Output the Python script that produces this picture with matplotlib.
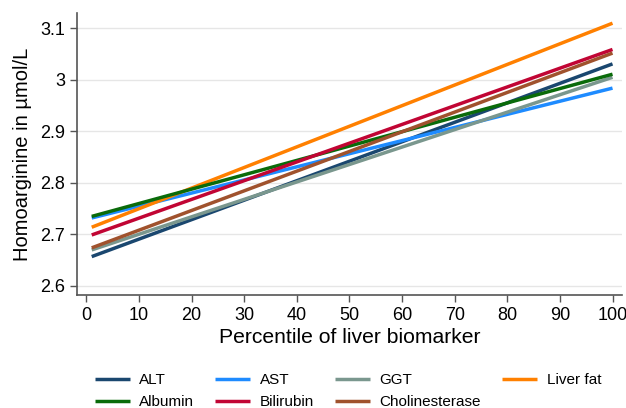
import matplotlib.pyplot as plt

plt.rcParams['font.family'] = ['Liberation Sans', 'DejaVu Sans']

# percentile range of the fitted lines
x_start = 1
x_end = 100

names = ['ALT', 'AST', 'GGT', 'Liver fat', 'Albumin', 'Bilirubin', 'Cholinesterase']
y_start = [2.657, 2.732, 2.670, 2.714, 2.735, 2.699, 2.674]
y_end = [3.031, 2.984, 3.005, 3.110, 3.011, 3.059, 3.052]
colors = ['#1a476f', '#1e8bff', '#7a978e', '#ff8000', '#0a6b0a', '#c10534', '#a0522d']

xticks = [0, 10, 20, 30, 40, 50, 60, 70, 80, 90, 100]
yticks = [2.6, 2.7, 2.8, 2.9, 3.0, 3.1]
ytick_labels = ['2.6', '2.7', '2.8', '2.9', '3', '3.1']

fig = plt.figure(figsize=(6.26, 4.08), dpi=100)
ax = fig.add_axes([0.123, 0.277, 0.871, 0.691])

lines = []
for name, y0, y1, c in zip(names, y_start, y_end, colors):
    l, = ax.plot([x_start, x_end], [y0, y1], color=c, lw=2.5, label=name,
                 solid_capstyle='butt')
    lines.append(l)

ax.set_xlim(-1.8, 101.85)
ax.set_ylim(2.5825, 3.1297)
ax.set_xticks(xticks)
ax.set_yticks(yticks)
ax.set_yticklabels(ytick_labels)
ax.grid(axis='y', color='#e6e6e6', lw=1)
ax.set_axisbelow(True)

for s in ['top', 'right']:
    ax.spines[s].set_visible(False)
for s in ['left', 'bottom']:
    ax.spines[s].set_color('#555555')
    ax.spines[s].set_linewidth(1.2)
ax.tick_params(colors='#555555', length=5, width=1, labelsize=13)
for lbl in ax.get_xticklabels() + ax.get_yticklabels():
    lbl.set_color('black')

ax.set_xlabel('Percentile of liver biomarker', fontsize=15.2, labelpad=3)
ax.set_ylabel('Homoarginine in µmol/L', fontsize=14.5, labelpad=6)

# legend filled row-wise: matplotlib fills columns, so interleave the two rows
order = [0, 4, 1, 5, 2, 6, 3]
fig.legend([lines[i] for i in order], [names[i] for i in order],
           loc='lower left', bbox_to_anchor=(0.129, -0.037), ncol=4, frameon=False,
           fontsize=11, handlelength=2.3, handletextpad=0.6,
           columnspacing=1.4, labelspacing=0.55)

fig.savefig('out.png', dpi=100)
